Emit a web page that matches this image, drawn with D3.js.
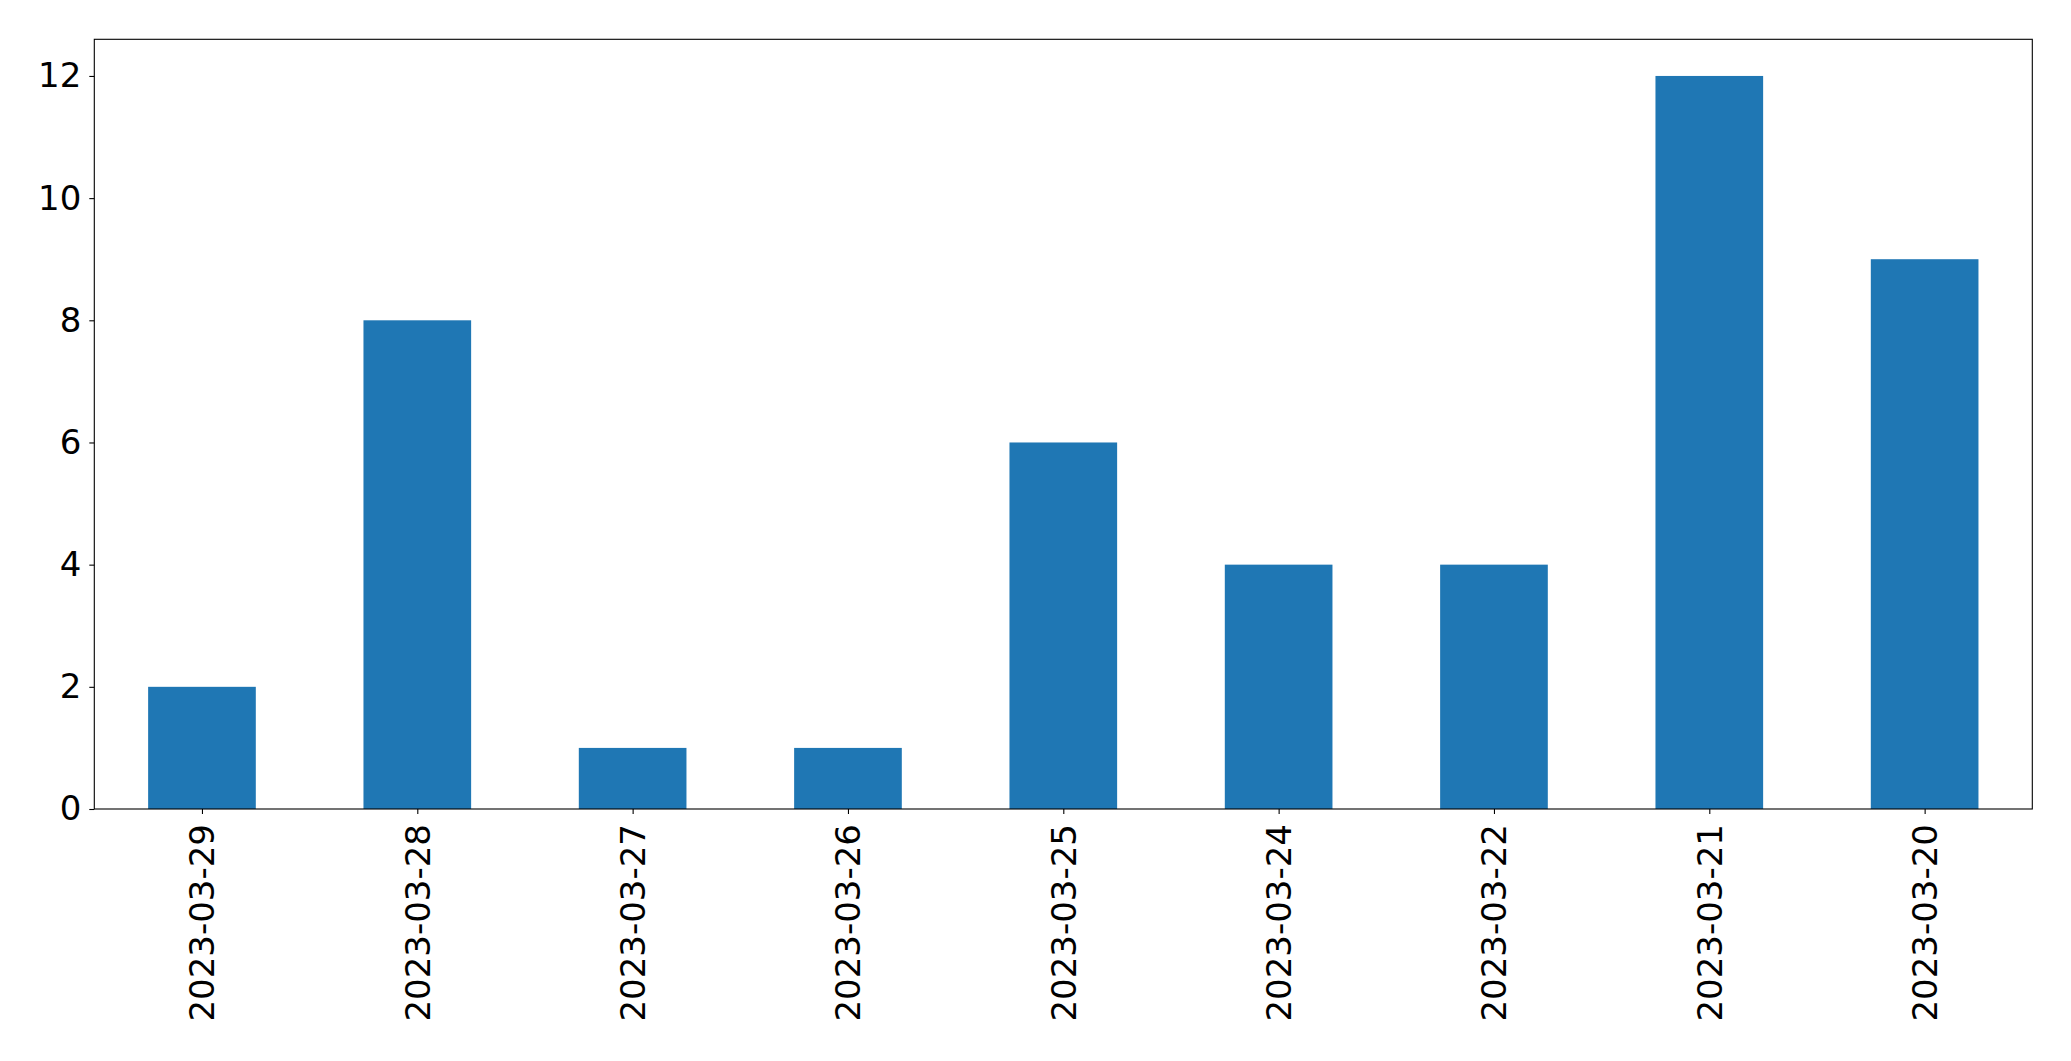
<!DOCTYPE html>
<html><head><meta charset="utf-8">
<script src="https://cdn.jsdelivr.net/npm/d3@7"></script>
<style>html,body{margin:0;padding:0;background:#fff;}svg{display:block;}</style>
</head><body>
<script>
const categories = ["2023-03-29","2023-03-28","2023-03-27","2023-03-26","2023-03-25","2023-03-24","2023-03-22","2023-03-21","2023-03-20"];
const values = [2, 8, 1, 1, 6, 4, 4, 12, 9];
const yTicks = [0, 2, 4, 6, 8, 10, 12];

const W = 2071, H = 1061;
const mLeft = 94.3, mRight = 2032.3, mTop = 39.3, mBottom = 809;
const fontSize = 34;

const svg = d3.select("body").append("svg").attr("width", W).attr("height", H);
svg.append("rect").attr("width", W).attr("height", H).attr("fill", "#fff");

const x = d3.scaleLinear().domain([-0.5, categories.length - 0.5]).range([mLeft, mRight]);
const y = d3.scaleLinear().domain([0, d3.max(values) * 1.05]).range([mBottom, mTop]);

svg.append("g").selectAll("rect").data(values).join("rect")
  .attr("x", (d, i) => x(i - 0.25))
  .attr("width", (d, i) => x(i + 0.25) - x(i - 0.25))
  .attr("y", d => y(d))
  .attr("height", d => y(0) - y(d))
  .attr("fill", "#1f77b4");

const yAxis = d3.axisLeft(y).tickValues(yTicks).tickSize(5).tickPadding(8).tickFormat(d3.format("d"));
const gy = svg.append("g").attr("transform", `translate(${mLeft},0)`).call(yAxis);
gy.select(".domain").remove();
gy.selectAll("line").attr("stroke", "#000").attr("stroke-width", 1.1);
gy.selectAll("text").attr("font-family", "DejaVu Sans").attr("font-size", fontSize).attr("fill", "#000");

const xAxis = d3.axisBottom(x).tickValues(d3.range(categories.length)).tickSize(5).tickFormat(i => categories[i]);
const gx = svg.append("g").attr("transform", `translate(0,${mBottom})`).call(xAxis);
gx.select(".domain").remove();
gx.selectAll("line").attr("stroke", "#000").attr("stroke-width", 1.1);
gx.selectAll("text")
  .attr("font-family", "DejaVu Sans").attr("font-size", fontSize).attr("fill", "#000")
  .attr("text-anchor", "end")
  .attr("dy", null).attr("y", 0)
  .attr("transform", "translate(0,15) rotate(-90)")
  .attr("dominant-baseline", "central");

svg.append("rect").attr("x", mLeft).attr("y", mTop)
  .attr("width", mRight - mLeft).attr("height", mBottom - mTop)
  .attr("fill", "none").attr("stroke", "#000").attr("stroke-width", 1.1);
</script>
</body></html>
